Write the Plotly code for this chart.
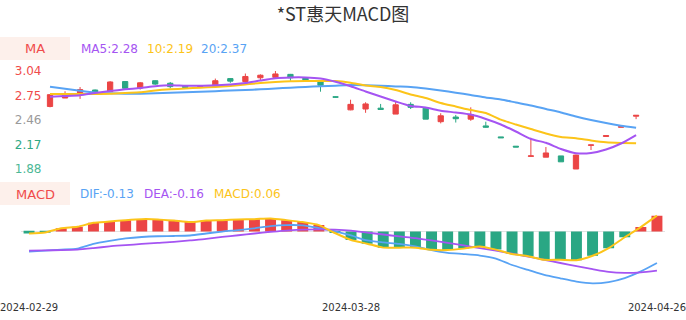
import plotly.graph_objects as go

W, H = 686, 320

dates = ["2024-02-29", "2024-03-01", "2024-03-04", "2024-03-05", "2024-03-06", "2024-03-07",
         "2024-03-08", "2024-03-11", "2024-03-12", "2024-03-13", "2024-03-14", "2024-03-15",
         "2024-03-18", "2024-03-19", "2024-03-20", "2024-03-21", "2024-03-22", "2024-03-25",
         "2024-03-26", "2024-03-27", "2024-03-28", "2024-03-29", "2024-04-01", "2024-04-02",
         "2024-04-03", "2024-04-08", "2024-04-09", "2024-04-10", "2024-04-11", "2024-04-12",
         "2024-04-15", "2024-04-16", "2024-04-17", "2024-04-18", "2024-04-19", "2024-04-22",
         "2024-04-23", "2024-04-24", "2024-04-25", "2024-04-26"]

open_ = [2.62, 2.72, 2.77, 2.815, 2.795, 2.915, 2.84, 2.925, 2.895, 2.86,
         2.85, 2.86, 2.95, 2.915, 2.96, 2.965, 3.00, 2.96, 2.91, 2.735,
         2.58, 2.59, 2.60, 2.53, 2.645, 2.60, 2.44, 2.495, 2.47, 2.39,
         2.26, 2.15, 2.03, 2.02, 2.035, 1.88, 2.16, 2.265, 2.375, 2.505]
high = [2.76, 2.80, 2.85, 2.82, 2.92, 2.92, 2.91, 2.93, 2.91, 2.87,
        2.86, 2.95, 2.955, 3.01, 3.00, 3.04, 3.005, 2.965, 2.915, 2.74,
        2.70, 2.67, 2.65, 2.68, 2.67, 2.605, 2.54, 2.52, 2.61, 2.44,
        2.26, 2.15, 2.25, 2.14, 2.035, 2.05, 2.165, 2.275, 2.385, 2.515]
low = [2.61, 2.72, 2.71, 2.77, 2.79, 2.83, 2.82, 2.875, 2.835, 2.83,
       2.84, 2.85, 2.90, 2.91, 2.93, 2.96, 2.925, 2.93, 2.795, 2.725,
       2.575, 2.545, 2.58, 2.53, 2.59, 2.47, 2.42, 2.43, 2.45, 2.37,
       2.25, 2.14, 2.03, 2.02, 1.965, 1.88, 2.105, 2.265, 2.375, 2.47]
close = [2.76, 2.77, 2.82, 2.78, 2.91, 2.835, 2.90, 2.885, 2.855, 2.845,
         2.855, 2.925, 2.92, 2.975, 2.99, 3.005, 2.96, 2.93, 2.87, 2.73,
         2.645, 2.65, 2.585, 2.64, 2.61, 2.47, 2.51, 2.475, 2.525, 2.375,
         2.25, 2.14, 2.035, 2.07, 1.965, 2.045, 2.165, 2.275, 2.38, 2.515]

ma5 = [2.736, 2.744, 2.754, 2.780, 2.803, 2.823, 2.839, 2.860, 2.872, 2.866,
       2.866, 2.872, 2.880, 2.898, 2.928, 2.955, 2.964, 2.964, 2.951, 2.913,
       2.859, 2.797, 2.738, 2.679, 2.626, 2.608, 2.570, 2.549, 2.524, 2.472,
       2.407, 2.324, 2.235, 2.190, 2.117, 2.067, 2.069, 2.111, 2.182, 2.282]
ma10 = [2.768, 2.768, 2.768, 2.768, 2.770, 2.780, 2.788, 2.809, 2.823, 2.833,
        2.842, 2.851, 2.863, 2.880, 2.898, 2.910, 2.919, 2.922, 2.922, 2.922,
        2.902, 2.868, 2.851, 2.815, 2.762, 2.720, 2.661, 2.620, 2.578, 2.543,
        2.464, 2.407, 2.353, 2.300, 2.259, 2.243, 2.217, 2.196, 2.188, 2.184]
ma20 = [2.854, 2.831, 2.807, 2.786, 2.776, 2.771, 2.771, 2.776, 2.783, 2.788,
        2.795, 2.801, 2.809, 2.815, 2.823, 2.833, 2.842, 2.852, 2.859, 2.866,
        2.873, 2.871, 2.865, 2.857, 2.851, 2.833, 2.809, 2.783, 2.756, 2.726,
        2.703, 2.667, 2.632, 2.590, 2.549, 2.501, 2.460, 2.424, 2.393, 2.369]

dif = [-0.081, -0.077, -0.073, -0.069, -0.050, -0.038, -0.028, -0.022, -0.019, -0.018,
       -0.016, -0.008, 0.000, 0.006, 0.013, 0.022, 0.026, 0.025, 0.014, 0.001,
       -0.016, -0.036, -0.044, -0.050, -0.060, -0.075, -0.086, -0.091, -0.097, -0.109,
       -0.135, -0.155, -0.175, -0.189, -0.202, -0.209, -0.204, -0.188, -0.161, -0.127]
dea = [-0.077, -0.076, -0.075, -0.073, -0.067, -0.060, -0.055, -0.050, -0.046, -0.042,
       -0.036, -0.030, -0.022, -0.015, -0.008, -0.001, 0.004, 0.008, 0.009, 0.008,
       0.004, -0.004, -0.012, -0.020, -0.027, -0.036, -0.046, -0.056, -0.067, -0.077,
       -0.089, -0.101, -0.114, -0.127, -0.140, -0.152, -0.163, -0.167, -0.165, -0.158]
macd = [-0.008, -0.004, 0.013, 0.019, 0.035, 0.040, 0.046, 0.050, 0.049, 0.044,
        0.038, 0.044, 0.046, 0.049, 0.050, 0.053, 0.046, 0.038, 0.026, -0.006,
        -0.034, -0.049, -0.065, -0.065, -0.065, -0.074, -0.075, -0.069, -0.060, -0.073,
        -0.091, -0.100, -0.114, -0.114, -0.116, -0.098, -0.067, -0.023, 0.018, 0.064]

price_ticks = [3.04, 2.75, 2.46, 2.17, 1.88]
price_tick_colors = ["#f04b4b", "#f04b4b", "#9a9a9a", "#2fa884", "#4cb896"]
x_tick_labels = ["2024-02-29", "2024-03-28", "2024-04-26"]

RED = "#eb4545"
GREEN = "#2aa784"
C_MA5 = "#a554f2"
C_MA10 = "#fcc419"
C_MA20 = "#58a3f4"
C_DIF = "#58a3f4"
C_DEA = "#a554f2"
C_MACD = "#fcc419"
FONT = "DejaVu Sans"


def py(px):
    return 1 - px / H


def pxx(px):
    return px / W


fig = go.Figure()

fig.add_trace(go.Candlestick(
    x=dates, open=open_, high=high, low=low, close=close,
    increasing=dict(line=dict(color=RED, width=1), fillcolor=RED),
    decreasing=dict(line=dict(color=GREEN, width=1), fillcolor=GREEN),
    whiskerwidth=0, xaxis="x", yaxis="y", showlegend=False, hoverinfo="skip"))

for vals, col in [(ma20, C_MA20), (ma10, C_MA10), (ma5, C_MA5)]:
    fig.add_trace(go.Scatter(x=dates, y=vals, mode="lines",
                             line=dict(color=col, width=2, shape="spline", smoothing=0.6),
                             xaxis="x", yaxis="y", showlegend=False, hoverinfo="skip"))

fig.add_trace(go.Bar(x=dates, y=macd, width=0.68,
                     marker=dict(color=[RED if v >= 0 else GREEN for v in macd], line=dict(width=0)),
                     xaxis="x2", yaxis="y2", showlegend=False, hoverinfo="skip"))
for vals, col, w in [(dif, C_DIF, 1.8), (dea, C_DEA, 1.8), (macd, C_MACD, 2)]:
    fig.add_trace(go.Scatter(x=dates, y=vals, mode="lines",
                             line=dict(color=col, width=w, shape="spline", smoothing=0.6),
                             xaxis="x2", yaxis="y2", showlegend=False, hoverinfo="skip"))

# header boxes
shapes = [
    dict(type="rect", xref="paper", yref="paper", x0=0, x1=pxx(70), y0=py(60), y1=py(37),
         fillcolor="#fdf0eb", line=dict(width=0), layer="below"),
    dict(type="rect", xref="paper", yref="paper", x0=0, x1=pxx(70), y0=py(205), y1=py(182),
         fillcolor="#fdf0eb", line=dict(width=0), layer="below"),
]

annotations = [
    dict(text="MA", x=pxx(35), y=py(48.5), xanchor="center", yanchor="middle",
         font=dict(color="#f04b4b", size=13, family=FONT)),
    dict(text="MA5:2.28", x=pxx(80), y=py(48.5), xanchor="left", yanchor="middle",
         font=dict(color=C_MA5, size=12, family=FONT)),
    dict(text="10:2.19", x=pxx(146), y=py(48.5), xanchor="left", yanchor="middle",
         font=dict(color=C_MA10, size=12, family=FONT)),
    dict(text="20:2.37", x=pxx(200), y=py(48.5), xanchor="left", yanchor="middle",
         font=dict(color=C_MA20, size=12, family=FONT)),
    dict(text="MACD", x=pxx(35), y=py(194), xanchor="center", yanchor="middle",
         font=dict(color="#f04b4b", size=13, family=FONT)),
    dict(text="DIF:-0.13", x=pxx(79), y=py(194), xanchor="left", yanchor="middle",
         font=dict(color=C_DIF, size=12, family=FONT)),
    dict(text="DEA:-0.16", x=pxx(143), y=py(194), xanchor="left", yanchor="middle",
         font=dict(color=C_DEA, size=12, family=FONT)),
    dict(text="MACD:0.06", x=pxx(212.5), y=py(194), xanchor="left", yanchor="middle",
         font=dict(color=C_MACD, size=12, family=FONT)),
]
for a in annotations:
    a.update(xref="paper", yref="paper", showarrow=False, borderpad=0)

fig.update_layout(
    width=W, height=H, margin=dict(l=0, r=0, t=0, b=0, pad=0),
    paper_bgcolor="white", plot_bgcolor="rgba(0,0,0,0)",
    boxgap=0.5,
    bargap=0.3,
    title=dict(text="*ST惠天MACD图", x=0.5, xanchor="center", y=py(15), yanchor="middle",
               font=dict(family="Noto Sans CJK SC", size=18, color="#333333")),
    shapes=shapes, annotations=annotations,
    xaxis=dict(domain=[pxx(42.5), pxx(643.6)], type="category", range=[-0.5, 39.5],
               showticklabels=False, showgrid=False, zeroline=False, showline=False,
               rangeslider=dict(visible=False), anchor="y", fixedrange=True, automargin=False),
    yaxis=dict(domain=[py(170.7), py(69.3)], range=[1.86, 3.06], anchor="x",
               tickvals=price_ticks,
               ticktext=[f'<span style="color:{c}">{v:.2f}</span>' for v, c in zip(price_ticks, price_tick_colors)],
               tickfont=dict(family=FONT, size=12), ticks="", showgrid=False, zeroline=False,
               showline=False, fixedrange=True, automargin=False),
    xaxis2=dict(domain=[pxx(21), pxx(665)], type="category", range=[-0.5, 39.5],
                tickvals=[dates[0], dates[20], dates[39]], ticktext=x_tick_labels,
                tickfont=dict(family=FONT, size=10, color="#333333"), ticks="",
                showgrid=False, zeroline=False, showline=False, anchor="free", position=py(300),
                fixedrange=True, automargin=False),
    yaxis2=dict(domain=[py(291.0), py(211.7)], range=[-0.24, 0.08], anchor="x2",
                showticklabels=False, showgrid=False, zeroline=True, zerolinecolor="#e3e3e3",
                zerolinewidth=1, showline=False, fixedrange=True, automargin=False),
)

fig.write_html("out.html")
